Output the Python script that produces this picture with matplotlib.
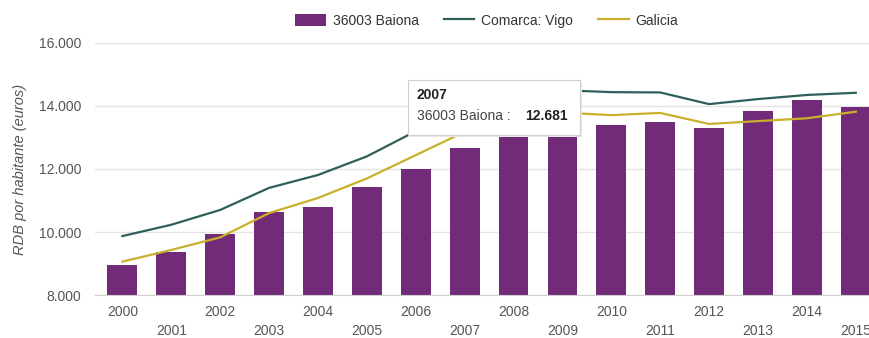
import matplotlib
matplotlib.use("Agg")
import matplotlib.pyplot as plt
from matplotlib.ticker import FuncFormatter
from matplotlib.patches import Rectangle

# RDB per inhabitant (euros)
YEARS = list(range(2000, 2016))
BAIONA = [8950, 9370, 9930, 10640, 10800, 11440, 11990, 12681,
          13150, 13100, 13400, 13490, 13300, 13850, 14190, 13980]
VIGO = [9870, 10230, 10700, 11400, 11810, 12400, 13200, 13900,
        14450, 14500, 14440, 14430, 14060, 14220, 14350, 14420]
GALICIA = [9060, 9430, 9830, 10600, 11080, 11700, 12440, 13180,
           13700, 13790, 13710, 13780, 13430, 13520, 13610, 13820]

HOVER_YEAR = 2007

PURPLE = "#722b78"
TEAL = "#2f5f5b"
MUSTARD = "#c9b02c"
GREY_TXT = "#555555"
FS = 10

plt.rcParams["font.family"] = ["Liberation Sans", "DejaVu Sans"]

fig = plt.figure(figsize=(8.69, 3.38), dpi=100)
ax = fig.add_axes([0.1093, 0.1272, 0.8907, 0.7456])

def thousands(v, _pos=None):
    return f"{v:,.0f}".replace(",", ".")

bars = ax.bar(YEARS, BAIONA, width=0.61, color=PURPLE, zorder=2)
vigo_line, = ax.plot(YEARS, VIGO, color=TEAL, lw=1.6, zorder=3)
gal_line, = ax.plot(YEARS, GALICIA, color=MUSTARD, lw=1.6, zorder=3)

ax.set_xlim(1999.44, 2015.27)
ax.set_ylim(8000, 16000)
ax.set_yticks(range(8000, 16001, 2000))
ax.yaxis.set_major_formatter(FuncFormatter(thousands))
ax.grid(axis="y", color="#e3e3e3", lw=1, zorder=0)
ax.set_axisbelow(True)

even = [y for y in YEARS if y % 2 == 0]
odd = [y for y in YEARS if y % 2 == 1]
ax.set_xticks(even, [str(y) for y in even])
ax.set_xticks(odd, [str(y) for y in odd], minor=True)
ax.tick_params(axis="x", which="major", length=0, pad=7, labelsize=FS, labelcolor=GREY_TXT)
ax.tick_params(axis="x", which="minor", length=0, pad=21, labelsize=FS, labelcolor=GREY_TXT)
ax.tick_params(axis="y", length=0, pad=10, labelsize=FS, labelcolor=GREY_TXT)

for side in ("top", "right", "left"):
    ax.spines[side].set_visible(False)
ax.spines["bottom"].set_color("#d0d0d0")

ax.set_ylabel("RDB por habitante (euros)", fontstyle="italic", fontsize=10.5,
              color=GREY_TXT)
ax.yaxis.set_label_coords(-0.088, 0.5)

# tooltip for the hovered year
i = YEARS.index(HOVER_YEAR)
x0, x1 = 2005.84, 2009.36
y0, y1 = 13080, 14830
ax.add_patch(Rectangle((x0 + 0.04, y0 - 60), x1 - x0, y1 - y0, facecolor="#e8e8e8",
                       edgecolor="none", zorder=5))
ax.add_patch(Rectangle((x0, y0), x1 - x0, y1 - y0, facecolor="white",
                       edgecolor="#cfcfcf", lw=0.8, zorder=6))
ax.text(x0 + 0.18, 14340, str(HOVER_YEAR), fontsize=FS, fontweight="bold",
        color="#222222", va="center", zorder=7)
ax.text(x0 + 0.18, 13670, "36003 Baiona :", fontsize=FS, color="#444444",
        va="center", zorder=7)
ax.text(x1 - 0.25, 13670, thousands(BAIONA[i]), fontsize=FS, fontweight="bold",
        color="#222222", va="center", ha="right", zorder=7)

fig.legend([bars, vigo_line, gal_line], ["36003 Baiona", "Comarca: Vigo", "Galicia"],
           loc="center", bbox_to_anchor=(0.56, 0.938), ncol=3,
           frameon=False, fontsize=FS, handlelength=2.2, handleheight=1.0,
           handletextpad=0.5, columnspacing=1.8, labelcolor="#333333")

fig.savefig("out.png", dpi=100)
